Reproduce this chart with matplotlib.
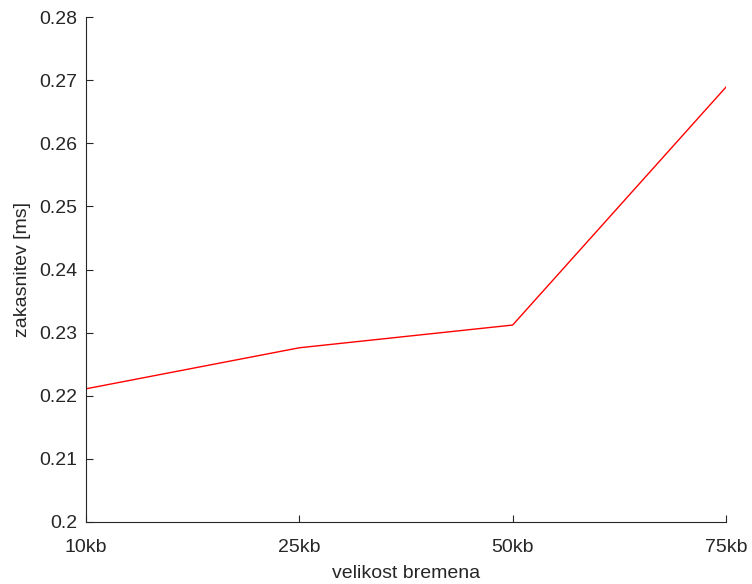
import matplotlib
matplotlib.use("Agg")
import matplotlib.pyplot as plt

# payload sizes and measured latency
sizes = ["10kb", "25kb", "50kb", "75kb"]
latency = [0.2211, 0.2276, 0.2312, 0.2689]

plt.rcParams["font.family"] = ["Liberation Sans", "DejaVu Sans"]
plt.rcParams["font.size"] = 14

dark = "#262626"

fig = plt.figure(figsize=(7.52, 5.84), dpi=100)
ax = fig.add_axes([86 / 752, 1 - 522 / 584, 640 / 752, 505 / 584])

x = list(range(len(sizes)))
ax.plot(x, latency, color="red", linewidth=1.0)

ax.set_xlim(0, len(sizes) - 1)
ax.set_ylim(0.2, 0.28)
ax.set_xticks(x)
ax.set_xticklabels(sizes)
ax.set_yticks([0.2, 0.21, 0.22, 0.23, 0.24, 0.25, 0.26, 0.27, 0.28])
ax.set_yticklabels(["0.2", "0.21", "0.22", "0.23", "0.24", "0.25", "0.26", "0.27", "0.28"])

for side in ["top", "right"]:
    ax.spines[side].set_visible(False)
for side in ["left", "bottom"]:
    ax.spines[side].set_color(dark)
    ax.spines[side].set_linewidth(0.8)

ax.tick_params(direction="in", length=4.8, width=0.8, colors=dark, labelcolor=dark)
ax.tick_params(axis="x", pad=12)
ax.tick_params(axis="y", pad=6)

ax.set_xlabel("velikost bremena", color=dark, labelpad=7)
ax.set_ylabel("zakasnitev [ms]", color=dark, labelpad=6)

fig.savefig("out.png", dpi=100)
